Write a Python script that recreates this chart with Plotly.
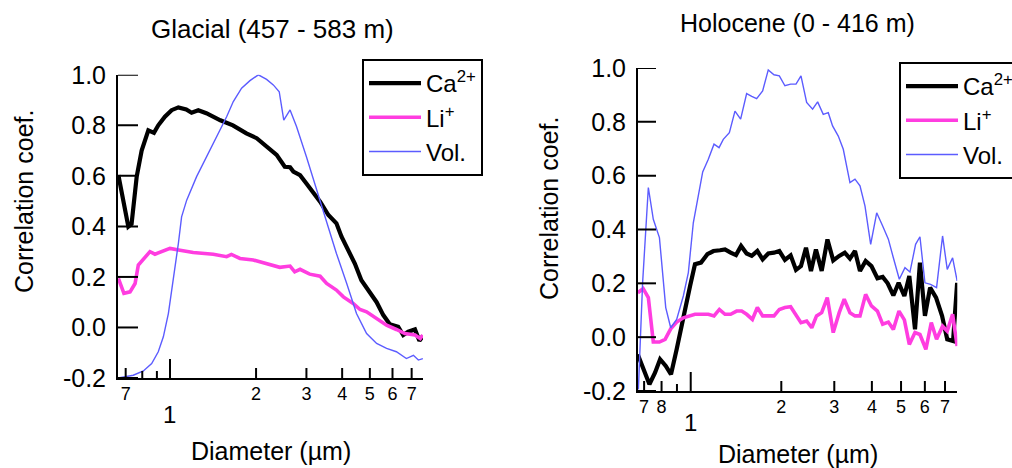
import math
import plotly.graph_objects as go

# ---------------- Glacial (left panel) ----------------
gl_ca_d = [0.660, 0.715, 0.734, 0.765, 0.796, 0.84, 0.879, 0.91, 0.96, 1.013, 1.07, 1.14, 1.19, 1.256,
           1.34, 1.50, 1.66, 1.85, 2.01, 2.18, 2.36, 2.52, 2.63, 2.70, 2.85, 3.0, 3.17, 3.35, 3.58, 3.82,
           3.98, 4.20, 4.43, 4.67, 4.94, 5.28, 5.57, 5.87, 6.28, 6.54, 6.81, 7.19, 7.45, 7.66]
gl_ca_v = [0.603, 0.399, 0.41, 0.597, 0.70, 0.78, 0.77, 0.80, 0.834, 0.86, 0.871, 0.863, 0.85, 0.86,
           0.848, 0.82, 0.80, 0.768, 0.749, 0.716, 0.683, 0.636, 0.634, 0.617, 0.603, 0.57, 0.537, 0.498,
           0.445, 0.412, 0.359, 0.306, 0.253, 0.187, 0.148, 0.10, 0.049, 0.013, 0.003, -0.03, -0.017,
           -0.008, -0.053, -0.034]

gl_li_d = [0.660, 0.69, 0.725, 0.755, 0.775, 0.81, 0.851, 0.886, 0.948, 1.0, 1.084, 1.206, 1.417, 1.578,
           1.64, 1.757, 1.955, 2.177, 2.42, 2.63, 2.73, 2.85, 3.08, 3.35, 3.53, 3.82, 4.04, 4.37, 4.62,
           4.87, 5.28, 5.72, 6.19, 6.63, 7.19, 7.50, 7.66]
gl_li_v = [0.194, 0.135, 0.141, 0.174, 0.247, 0.273, 0.30, 0.29, 0.304, 0.313, 0.306, 0.297, 0.29, 0.28,
           0.289, 0.273, 0.267, 0.253, 0.238, 0.243, 0.22, 0.23, 0.211, 0.203, 0.174, 0.148, 0.121, 0.095,
           0.071, 0.062, 0.036, 0.009, -0.008, -0.024, -0.03, -0.044, -0.03]

gl_vol_d = [0.660, 0.744, 0.807, 0.863, 0.91, 0.948, 0.987, 1.027, 1.07, 1.098, 1.144, 1.239, 1.343,
            1.456, 1.578, 1.665, 1.78, 1.904, 2.037, 2.177, 2.298, 2.41, 2.5, 2.63, 2.77, 3.0, 3.26,
            3.53, 3.82, 4.15, 4.49, 4.87, 5.28, 5.72, 6.19, 6.71, 7.1, 7.39, 7.66]
gl_vol_v = [-0.2, -0.189, -0.172, -0.143, -0.096, -0.037, 0.055, 0.187, 0.333, 0.438, 0.504, 0.597,
            0.676, 0.755, 0.834, 0.894, 0.947, 0.977, 1.0, 0.982, 0.96, 0.933, 0.821, 0.861, 0.795,
            0.676, 0.544, 0.412, 0.293, 0.174, 0.055, -0.024, -0.063, -0.083, -0.096, -0.123, -0.11,
            -0.129, -0.123]

# ---------------- Holocene (right panel) ----------------
ho_d = [0.670, 0.692, 0.723, 0.751, 0.787, 0.826, 0.858, 0.898, 0.945, 0.982, 1.02, 1.06, 1.096, 1.144,
        1.195, 1.242, 1.283, 1.344, 1.403, 1.465, 1.534, 1.595, 1.656, 1.734, 1.81, 1.891, 1.97, 2.056,
        2.148, 2.238, 2.325, 2.428, 2.541, 2.641, 2.757, 2.865, 2.961, 3.093, 3.214, 3.382, 3.515,
        3.652, 3.795, 3.963, 4.15, 4.344, 4.537, 4.714, 4.934, 5.152, 5.353, 5.589, 5.778, 6.003,
        6.268, 6.562, 6.87, 7.12, 7.419, 7.68]
ho_vol_v = [-0.194, 0.202, 0.556, 0.438, 0.37, 0.11, 0.035, 0.066, 0.153, 0.24, 0.425, 0.525, 0.614,
            0.661, 0.717, 0.704, 0.735, 0.76, 0.84, 0.81, 0.905, 0.895, 0.886, 0.915, 0.993, 0.975,
            0.971, 0.934, 0.94, 0.94, 0.971, 0.872, 0.847, 0.874, 0.828, 0.834, 0.785, 0.747, 0.698,
            0.574, 0.587, 0.562, 0.487, 0.345, 0.462, 0.413, 0.364, 0.295, 0.215, 0.258, 0.242, 0.345,
            0.373, 0.202, 0.196, 0.184, 0.376, 0.252, 0.295, 0.209]
ho_ca_d = [0.667, 0.692, 0.729, 0.761, 0.791, 0.826, 0.86, 0.898, 0.945, 0.995, 1.033, 1.082, 1.136,
           1.19, 1.251, 1.3, 1.357, 1.414, 1.47, 1.534, 1.595, 1.665, 1.734, 1.81, 1.891, 1.97, 2.056,
           2.148, 2.238, 2.325, 2.416, 2.51, 2.607, 2.724, 2.847, 2.976, 3.115, 3.25, 3.382, 3.515,
           3.652, 3.813, 3.986, 4.173, 4.344, 4.514, 4.714, 4.909, 5.129, 5.327, 5.564, 5.778, 6.003,
           6.245, 6.537, 6.843, 7.12, 7.446, 7.68]
ho_ca_v = [-0.064, -0.107, -0.175, -0.132, -0.082, -0.107, -0.138, -0.045, 0.079, 0.19, 0.271, 0.277,
           0.308, 0.32, 0.323, 0.326, 0.314, 0.305, 0.339, 0.311, 0.302, 0.32, 0.289, 0.311, 0.314,
           0.32, 0.287, 0.304, 0.25, 0.264, 0.332, 0.246, 0.326, 0.246, 0.363, 0.285, 0.302, 0.314,
           0.292, 0.32, 0.246, 0.283, 0.264, 0.219, 0.224, 0.2, 0.155, 0.202, 0.153, 0.227, 0.029,
           0.277, 0.079, 0.184, 0.147, 0.079, -0.008, -0.014, 0.202]
ho_li_d = [0.667, 0.695, 0.723, 0.751, 0.787, 0.822, 0.858, 0.898, 0.945, 0.992, 1.033, 1.087, 1.144,
           1.195, 1.245, 1.3, 1.357, 1.421, 1.477, 1.534, 1.603, 1.665, 1.734, 1.81, 1.891, 1.97, 2.056,
           2.148, 2.238, 2.325, 2.428, 2.525, 2.619, 2.724, 2.843, 2.976, 3.115, 3.237, 3.382, 3.515,
           3.652, 3.813, 3.986, 4.173, 4.344, 4.537, 4.714, 4.922, 5.129, 5.327, 5.564, 5.778, 6.045,
           6.302, 6.562, 6.87, 7.12, 7.419, 7.68]
ho_li_v = [0.165, 0.18, 0.147, -0.018, -0.018, -0.008, 0.031, 0.056, 0.072, 0.081, 0.085, 0.085, 0.085,
           0.079, 0.103, 0.085, 0.085, 0.097, 0.097, 0.085, 0.066, 0.11, 0.079, 0.079, 0.079, 0.103,
           0.11, 0.113, 0.079, 0.054, 0.06, 0.035, 0.079, 0.091, 0.147, 0.017, 0.091, 0.141, 0.091,
           0.079, 0.079, 0.159, 0.116, 0.097, 0.048, 0.056, 0.029, 0.097, 0.064, -0.027, 0.017, 0.01,
           -0.045, 0.054, -0.008, 0.041, 0.023, 0.085, -0.033]

# ---------------- tick labels / texts ----------------
y_ticks = [-0.2, 0.0, 0.2, 0.4, 0.6, 0.8, 1.0]
y_ticktext = ["-0.2", "0.0", "0.2", "0.4", "0.6", "0.8", "1.0"]
gl_xtick_vals = [0.7, 2, 3, 4, 5, 6, 7]
gl_xtick_text = ["7", "2", "3", "4", "5", "6", "7"]
gl_minor_vals = [0.8, 0.9]
ho_xtick_vals = [0.7, 0.8, 2, 3, 4, 5, 6, 7]
ho_xtick_text = ["7", "8", "2", "3", "4", "5", "6", "7"]
ho_minor_vals = [0.9]
major_vals = [1]
major_text = ["1"]
names = ["Ca<sup>2+</sup>", "Li<sup>+</sup>", "Vol."]
titles = ["Glacial (457 - 583 m)", "Holocene (0 - 416 m)"]

BLACK = "#000000"
PINK = "#ff3de0"
BLUE = "#5c5cff"
FONT = "Liberation Sans, Arial, sans-serif"
W, H = 1012, 468
Y_LO, Y_HI = -0.2, 1.0


def px(x):
    return x / W


def py(y):
    return 1 - y / H


gl_dom = [px(118), px(423)]
ho_dom = [px(638), px(957.3)]
gl_lo, gl_hi = 0.658, 7.67
ho_lo, ho_hi = 0.668, 7.69
gl_ydom = [1 - 378 / H, 1 - 74.8 / H]
ho_ydom = [1 - 391 / H, 1 - 68 / H]

fig = go.Figure()
styles = [(BLACK, 4.2), (PINK, 3.6), (BLUE, 1.4)]

gl_series = [(gl_ca_d, gl_ca_v), (gl_li_d, gl_li_v), (gl_vol_d, gl_vol_v)]
for (xd, yd), name, (c, w) in zip(gl_series, names, styles):
    fig.add_trace(go.Scatter(x=xd, y=yd, mode="lines", name=name, line=dict(color=c, width=w),
                             xaxis="x", yaxis="y", legend="legend"))
ho_series = [(ho_ca_d, ho_ca_v), (ho_li_d, ho_li_v), (ho_d, ho_vol_v)]
for (xd, yd), name, (c, w) in zip(ho_series, names, styles):
    fig.add_trace(go.Scatter(x=xd, y=yd, mode="lines", name=name, line=dict(color=c, width=w),
                             xaxis="x2", yaxis="y2", legend="legend2"))


# Igor-style inward tick marks (three lengths), built from the tick value lists
def add_ticks(xref, yref, xdom, ydom, lo, hi, groups, ylen_px):
    plot_w = (xdom[1] - xdom[0]) * W
    plot_h = (ydom[1] - ydom[0]) * H
    y_per_px = (Y_HI - Y_LO) / plot_h
    dec_per_px = (math.log10(hi) - math.log10(lo)) / plot_w
    xs, ys = [], []
    for vals, ln in groups:
        for v in vals:
            xs += [v, v, None]
            ys += [Y_LO, Y_LO + ln * y_per_px, None]
    x_end = lo * 10 ** (ylen_px * dec_per_px)
    for v in y_ticks:
        xs += [lo, x_end, None]
        ys += [v, v, None]
    fig.add_trace(go.Scatter(x=xs, y=ys, mode="lines", line=dict(color="black", width=2),
                             xaxis=xref, yaxis=yref, showlegend=False, hoverinfo="skip",
                             cliponaxis=False))


add_ticks("x", "y", gl_dom, gl_ydom, gl_lo, gl_hi,
          [(gl_xtick_vals, 10), (gl_minor_vals, 7), (major_vals, 19)], 20)
add_ticks("x2", "y2", ho_dom, ho_ydom, ho_lo, ho_hi,
          [(ho_xtick_vals, 10), (ho_minor_vals, 7), (major_vals, 19)], 18)


def xaxis_common(domain, lo, hi, anchor, vals, text):
    return dict(type="log", domain=domain, range=[math.log10(lo), math.log10(hi)], anchor=anchor,
                showgrid=False, zeroline=False, showline=True, linecolor="black", linewidth=2,
                ticks="", tickvals=vals, ticktext=text, ticklabelstandoff=-2,
                tickfont=dict(size=18, color="black", family=FONT), automargin=False)


def yaxis_common(domain, anchor):
    return dict(domain=domain, range=[Y_LO, Y_HI], anchor=anchor, showgrid=False, zeroline=False,
                showline=True, linecolor="black", linewidth=2, ticks="", tickvals=y_ticks,
                ticktext=y_ticktext, ticklabelstandoff=5,
                tickfont=dict(size=25, color="black", family=FONT), automargin=False)


fig.update_layout(
    template="none",
    width=W, height=H, margin=dict(l=0, r=0, t=0, b=0, pad=0, autoexpand=False),
    paper_bgcolor="white", plot_bgcolor="white",
    font=dict(family=FONT, color="black", size=24),
    xaxis=xaxis_common(gl_dom, gl_lo, gl_hi, "y", gl_xtick_vals, gl_xtick_text),
    xaxis2=xaxis_common(ho_dom, ho_lo, ho_hi, "y2", ho_xtick_vals, ho_xtick_text),
    yaxis=yaxis_common(gl_ydom, "x"),
    yaxis2=yaxis_common(ho_ydom, "x2"),
    legend=dict(x=px(362), y=py(59), xanchor="left", yanchor="top", bordercolor="black",
                borderwidth=2, bgcolor="white", font=dict(size=24, family=FONT, color="black"),
                tracegroupgap=0, itemwidth=52),
    legend2=dict(x=px(899), y=py(62), xanchor="left", yanchor="top", bordercolor="black",
                 borderwidth=2, bgcolor="white", font=dict(size=24, family=FONT, color="black"),
                 tracegroupgap=0, itemwidth=52),
    showlegend=True,
)

ann = []
ann.append(dict(text=titles[0], x=px(272), y=py(29), xref="paper", yref="paper", showarrow=False,
                xanchor="center", yanchor="middle", font=dict(size=26)))
ann.append(dict(text=titles[1], x=px(797.5), y=py(23), xref="paper", yref="paper", showarrow=False,
                xanchor="center", yanchor="middle", font=dict(size=25)))
ann.append(dict(text="Correlation coef.", x=px(24), y=py(202), xref="paper", yref="paper",
                showarrow=False, textangle=-90, xanchor="center", yanchor="middle", font=dict(size=25)))
ann.append(dict(text="Correlation coef.", x=px(549), y=py(209), xref="paper", yref="paper",
                showarrow=False, textangle=-90, xanchor="center", yanchor="middle", font=dict(size=25)))
ann.append(dict(text="Diameter (µm)", x=px(270.5), y=py(451), xref="paper", yref="paper",
                showarrow=False, xanchor="center", yanchor="middle", font=dict(size=25)))
ann.append(dict(text="Diameter (µm)", x=px(797.5), y=py(454), xref="paper", yref="paper",
                showarrow=False, xanchor="center", yanchor="middle", font=dict(size=25)))
for xr, yy in (("x", py(414)), ("x2", py(422))):
    ann.append(dict(text=major_text[0], x=math.log10(major_vals[0]), y=yy, xref=xr, yref="paper",
                    showarrow=False, xanchor="center", yanchor="middle", font=dict(size=24)))
fig.update_layout(annotations=ann)

fig.write_html("out.html")
